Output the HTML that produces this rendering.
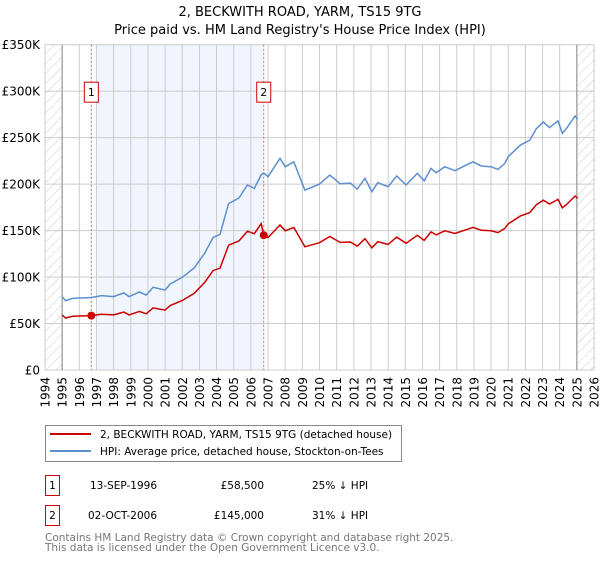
<!DOCTYPE html>
<html><head><meta charset="utf-8"><style>
body{margin:0;background:#fff;font-family:"DejaVu Sans","Liberation Sans",sans-serif;}
svg text{font-family:"DejaVu Sans","Liberation Sans",sans-serif;}
</style></head><body>
<svg id="chart" width="600" height="560" xmlns="http://www.w3.org/2000/svg">
<defs><pattern id="hatch" patternUnits="userSpaceOnUse" width="7" height="7" patternTransform="rotate(45)"><line x1="0" y1="0" x2="0" y2="7" stroke="#ccc" stroke-width="1"/></pattern></defs>
<text x="300" y="16" font-size="13" text-anchor="middle">2, BECKWITH ROAD, YARM, TS15 9TG</text>
<text x="300" y="34" font-size="13" text-anchor="middle">Price paid vs. HM Land Registry's House Price Index (HPI)</text>
<g id="plot"></g>
<g>
<rect x="45.5" y="425.5" width="356" height="36" fill="#fff" stroke="#888"/>
<line x1="50" y1="434" x2="91" y2="434" stroke="#cc0000" stroke-width="2"/>
<text x="100" y="438" font-size="10.5">2, BECKWITH ROAD, YARM, TS15 9TG (detached house)</text>
<line x1="50" y1="451" x2="91" y2="451" stroke="#5b8fd0" stroke-width="2"/>
<text x="100" y="455" font-size="10.5">HPI: Average price, detached house, Stockton-on-Tees</text>
</g>
<g font-size="10.5">
<rect x="45.5" y="475.5" width="14" height="20" fill="#fff" stroke="#cc0000"/>
<text x="52.5" y="489" text-anchor="middle">1</text>
<text x="157" y="489" text-anchor="end">13-SEP-1996</text>
<text x="264" y="489" text-anchor="end">£58,500</text>
<text x="312" y="489">25% ↓ HPI</text>
<rect x="45.5" y="505.5" width="14" height="20" fill="#fff" stroke="#cc0000"/>
<text x="52.5" y="519" text-anchor="middle">2</text>
<text x="157" y="519" text-anchor="end">02-OCT-2006</text>
<text x="264" y="519" text-anchor="end">£145,000</text>
<text x="312" y="519">31% ↓ HPI</text>
</g>
<text x="45" y="541" font-size="10.5" fill="#777">Contains HM Land Registry data © Crown copyright and database right 2025.</text>
<text x="45" y="551" font-size="10.5" fill="#777">This data is licensed under the Open Government Licence v3.0.</text>
</svg>
<script>
const years=[1995,1995.2,1995.6,1996.7,1997.3,1998.0,1998.6,1998.9,1999.5,1999.9,2000.3,2001.0,2001.3,2002.0,2002.7,2003.3,2003.8,2004.2,2004.7,2005.3,2005.8,2006.2,2006.6,2006.75,2007.0,2007.7,2008.0,2008.5,2009.15,2010.0,2010.6,2011.2,2011.8,2012.2,2012.65,2013.05,2013.4,2014.0,2014.5,2015.05,2015.7,2016.1,2016.5,2016.8,2017.3,2017.9,2018.55,2018.95,2019.45,2020.0,2020.4,2020.8,2021.0,2021.7,2022.25,2022.65,2023.05,2023.4,2023.9,2024.15,2024.4,2024.9,2025.05];
const hpiValues=[78.9,74.6,77,78,80,79,83,79,84,80.6,89,86,92.5,99.7,110,125.5,142.7,146,179,185,199,195.4,210,212,208,227.7,218.7,224,193.6,200,209.7,200.4,201,194.5,206.3,191.9,201.5,197.2,208.7,199,211.5,203.6,216.9,212.3,218.7,214.4,220.5,224,219.4,218.7,215.8,222.3,229.5,241.8,247.2,259.8,266.9,260.8,268,254.6,260,273.3,269.7];
const priceValues=[59.2,56,57.8,58.5,60,59.3,62.3,59.3,63,60.5,66.8,64.5,69.4,74.8,82.5,94.1,107,109.5,134.3,138.8,149.3,146.6,157.5,145,142.5,156,149.8,153.4,132.6,137,143.6,137.3,137.7,133.2,141.3,131.5,138,135.1,143,136.3,144.9,139.5,148.6,145.4,149.8,146.9,151,153.4,150.3,149.8,147.8,152.3,157.2,165.6,169.3,178,182.8,178.6,183.6,174.4,178.1,187.2,184.7];
const saleYears=[1996.7,2006.75];
const saleValues=[58.5,145];
const saleLabels=["1","2"];
const yTicks=[0,50,100,150,200,250,300,350];
const yTickLabels=["£0","£50K","£100K","£150K","£200K","£250K","£300K","£350K"];
const xTicks=[1994,1995,1996,1997,1998,1999,2000,2001,2002,2003,2004,2005,2006,2007,2008,2009,2010,2011,2012,2013,2014,2015,2016,2017,2018,2019,2020,2021,2022,2023,2024,2025,2026];

const L=45,R=594,T=44.7,B=370;
const xs=y=>L+(y-1994)/32*(R-L);
const ys=v=>B-v/350*(B-T);
const NS="http://www.w3.org/2000/svg";
const g=document.getElementById('plot');
function mk(tag,attrs,parent){const e=document.createElementNS(NS,tag);for(const k in attrs)e.setAttribute(k,attrs[k]);(parent||g).appendChild(e);return e;}

let r=mk('rect',{x:L,y:T,width:R-L,height:B-T,fill:'#fff'});


r=mk('rect',{x:xs(1997),y:T,width:xs(2006.75)-xs(1997),height:B-T,fill:'#eef3fc',opacity:0.8});


r=mk('rect',{x:L,y:T,width:xs(1995)-L,height:B-T,fill:'url(#hatch)'});


r=mk('rect',{x:xs(2025),y:T,width:R-xs(2025),height:B-T,fill:'url(#hatch)'});



xTicks.forEach(t=>{
 const x=xs(t);
 let l=mk('line',{x1:x,x2:x,y1:T,y2:B,stroke:'#ccc','stroke-width':1});
 
 
 let tx=mk('text',{x:0,y:0,'font-size':12,'text-anchor':'end',transform:`translate(${x+4.5},${B+7}) rotate(-90)`});
 tx.textContent=t;
 
 
});
yTicks.forEach((v,i)=>{
 const y=ys(v);
 let l=mk('line',{x1:L,x2:R,y1:y,y2:y,stroke:'#ccc','stroke-width':1});
 
 
 let tx=mk('text',{x:40,y:y+4.5,'font-size':12,'text-anchor':'end'});
 tx.textContent=yTickLabels[i];
 
 
});
[1995,2025].forEach(t=>{
 let l=mk('line',{x1:xs(t),x2:xs(t),y1:T,y2:B,stroke:'#999','stroke-width':1.2});
 
 
});
saleYears.forEach((s,i)=>{
 const x=xs(s);
 let l=mk('line',{x1:x,x2:x,y1:T,y2:B,stroke:'#e06060','stroke-width':1,'stroke-dasharray':'2,2'});
 
 
 let b=mk('rect',{x:x-7,y:ys(300)-9,width:14,height:20,fill:'#fff',stroke:'#cc0000'});
 
 
 let tx=mk('text',{x:x,y:ys(300)+5,'font-size':11,'text-anchor':'middle'});
 tx.textContent=saleLabels[i];
 
 
});
const path=(vals)=>years.map((y,i)=>(i?'L':'M')+xs(y).toFixed(1)+','+ys(vals[i]).toFixed(1)).join('');
let p=mk('path',{d:path(hpiValues),fill:'none',stroke:'#5b8fd0','stroke-width':1.5});


p=mk('path',{d:path(priceValues),fill:'none',stroke:'#cc0000','stroke-width':1.5});


saleYears.forEach((s,i)=>{
 let c=mk('circle',{cx:xs(s),cy:ys(saleValues[i]),r:4,fill:'#cc0000'});
 
 
});
</script>
</body></html>
